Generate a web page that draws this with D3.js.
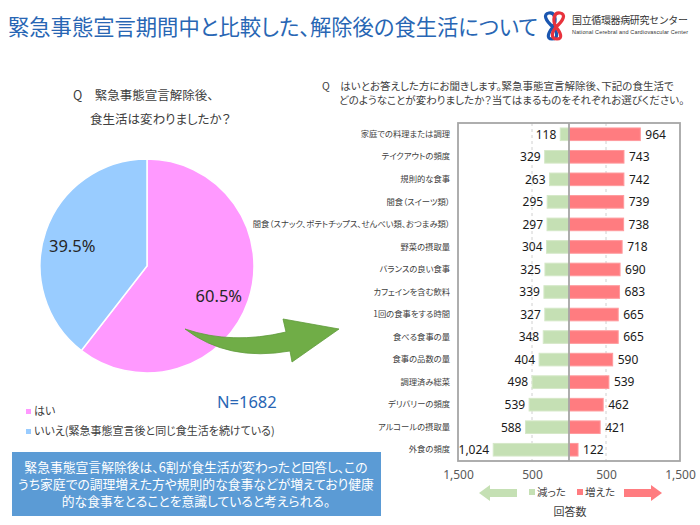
<!DOCTYPE html>
<html><head><meta charset="utf-8">
<script src="https://cdn.jsdelivr.net/npm/d3@7"></script>
<style>
body{margin:0;background:#fff;}
svg{display:block;font-family:"Noto Sans CJK JP","Noto Sans",sans-serif;}
.jp{font-feature-settings:"palt";}
</style></head>
<body><svg id="c" width="700" height="525"></svg>
<script>
const pieLabels = ["はい", "いいえ(緊急事態宣言後と同じ食生活を続けている)"];
const pieValues = [60.5, 39.5];
const pieColors = ["#ff99ff", "#99ccff"];
const categories = ["家庭での料理または調理","テイクアウトの頻度","規則的な食事","間食（スイーツ類）","間食（スナック、ポテトチップス、せんべい類、おつまみ類）","野菜の摂取量","バランスの良い食事","カフェインを含む飲料","1回の食事をする時間","食べる食事の量","食事の品数の量","調理済み総菜","デリバリーの頻度","アルコールの摂取量","外食の頻度"];
const increased = [964,743,742,739,738,718,690,683,665,665,590,539,462,421,122];
const decreased = [118,329,263,295,297,304,325,339,327,348,404,498,539,588,1024];
const axisTicks = [-1500,-500,500,1500];
const gridTicks = [-500,500];

const svg = d3.select("#c");

// Title
svg.append("text").attr("class","jp").attr("x",8).attr("y",35).attr("font-size",21.3)
  .attr("fill","#2866b4").text("緊急事態宣言期間中と比較した、解除後の食生活について");

// Logo
const logo = svg.append("g");
logo.append("path").attr("d","M553,27 C545,20 543,14 549,13 C555,12 557,20 553,27 C548,33 546,39 552,39 C558,39 558,33 553,27")
  .attr("fill","none").attr("stroke","#1a56b0").attr("stroke-width",3.2);
logo.append("path").attr("d","M556,27 C564,20 566,14 560,13 C554,12 552,20 556,27 C561,33 563,39 557,39 C551,39 551,33 556,27")
  .attr("fill","none").attr("stroke","#e8323c").attr("stroke-width",3.2);
logo.append("text").attr("x",572).attr("y",24).attr("font-size",10).attr("fill","#333")
  .attr("textLength",116).text("国立循環器病研究センター");
logo.append("text").attr("x",572).attr("y",34).attr("font-size",5.5).attr("fill","#333")
  .attr("font-family","Liberation Sans").attr("textLength",116).text("National Cerebral and Cardiovascular Center");

// Pie question
svg.append("text").attr("class","jp").attr("x",73).attr("y",100).attr("font-size",12.5).attr("fill","#404040")
  .text("Q　緊急事態宣言解除後、");
svg.append("text").attr("class","jp").attr("x",90).attr("y",124).attr("font-size",12.5).attr("fill","#404040")
  .text("食生活は変わりましたか？");

// Summary box (drawn early so the chart sits above it)
svg.append("rect").attr("x",12).attr("y",452).attr("width",369).attr("height",64).attr("fill","#5b9bd5");
const sum = ["緊急事態宣言解除後は、6割が食生活が変わったと回答し、この","うち家庭での調理増えた方や規則的な食事などが増えており健康","的な食事をとることを意識していると考えられる。"];
sum.forEach((s,i)=>svg.append("text").attr("class","jp").attr("x",196).attr("y",471.5+i*17)
  .attr("text-anchor","middle").attr("font-size",12.8).attr("fill","#fff").text(s));

// Pie
const pcx=147, pcy=266, pr=107;
const pie = d3.pie().sort(null).value(d=>d)(pieValues);
const arc = d3.arc().innerRadius(0).outerRadius(pr);
const pg = svg.append("g").attr("transform",`translate(${pcx},${pcy})`);
pg.selectAll("path").data(pie).join("path").attr("d",arc)
  .attr("fill",(d,i)=>pieColors[i]).attr("stroke","#fff").attr("stroke-width",1.5);
const labelArc = d3.arc().innerRadius(pr*0.66).outerRadius(pr*0.66);
pg.selectAll("text.pl").data(pie).join("text").attr("class","pl")
  .attr("transform",(d,i)=>{const c=labelArc.centroid(d);return `translate(${c[0]+(i==0?5:-8)},${c[1]+(i==0?9:4)})`;})
  .attr("text-anchor","middle").attr("dominant-baseline","middle")
  .attr("font-family","Noto Sans").attr("font-size",16.5).attr("fill","#262626")
  .text(d=>d.data.toFixed(1)+"%");

// Green curved arrow
svg.append("path").attr("d","M185,329 Q232,345 286,332 L283,319 L339,329 L292,362 L290,351 Q228,362 185,329 Z")
  .attr("fill","#70ad47").attr("stroke","#5e9a3a").attr("stroke-width",0.8);

// N
svg.append("text").attr("x",217).attr("y",408).attr("font-family","Noto Sans").attr("font-size",16.5)
  .attr("fill","#2866b4").text("N=1682");

// Pie legend
const lg = svg.append("g");
pieLabels.forEach((l,i)=>{
  lg.append("rect").attr("x",26).attr("y",409+i*20).attr("width",5).attr("height",5).attr("fill",pieColors[i]);
  lg.append("text").attr("class","jp").attr("x",34).attr("y",415+i*20).attr("font-size",11).attr("fill","#404040").text(l);
});

// Right question
svg.append("text").attr("class","jp").attr("x",322).attr("y",90).attr("font-size",10.5).attr("fill","#404040")
  .text("Q　はいとお答えした方にお聞きします。緊急事態宣言解除後、下記の食生活で");
svg.append("text").attr("class","jp").attr("x",339).attr("y",104).attr("font-size",10.5).attr("fill","#404040")
  .text("どのようなことが変わりましたか？当てはまるものをそれぞれお選びください。");

// Bar chart
const x = d3.scaleLinear().domain([-1500,1500]).range([458,680]);
const y = d3.scaleBand().domain(categories).range([123,461]).paddingInner(0.44).paddingOuter(0.22);
const g = svg.append("g");
g.append("rect").attr("x",458).attr("y",123).attr("width",222).attr("height",338).attr("fill","#fff");
g.selectAll("line.grid").data(gridTicks).join("line").attr("class","grid")
  .attr("x1",d=>x(d)).attr("x2",d=>x(d)).attr("y1",123).attr("y2",461)
  .attr("stroke","#d0d0d0").attr("stroke-dasharray","3,3");
g.selectAll("rect.dec").data(decreased).join("rect").attr("class","dec")
  .attr("x",d=>x(-d)).attr("width",d=>x(0)-x(-d)).attr("y",(d,i)=>y(categories[i])).attr("height",y.bandwidth())
  .attr("fill","#c5e0b4").attr("stroke","#d5e8c8").attr("stroke-width",1);
g.selectAll("rect.inc").data(increased).join("rect").attr("class","inc")
  .attr("x",x(0)).attr("width",d=>x(d)-x(0)).attr("y",(d,i)=>y(categories[i])).attr("height",y.bandwidth())
  .attr("fill","#ff7c80").attr("stroke","#ff9a9d").attr("stroke-width",1);
const fmt = d3.format(",");
g.selectAll("text.dv").data(decreased).join("text").attr("class","dv")
  .attr("x",d=>x(-d)-4).attr("y",(d,i)=>y(categories[i])+y.bandwidth()/2).attr("dy","0.36em")
  .attr("text-anchor","end").attr("font-family","Noto Sans").attr("font-size",12).attr("fill","#1a1a1a").text(d=>fmt(d));
g.selectAll("text.iv").data(increased).join("text").attr("class","iv")
  .attr("x",d=>x(d)+5).attr("y",(d,i)=>y(categories[i])+y.bandwidth()/2).attr("dy","0.36em")
  .attr("font-family","Noto Sans").attr("font-size",12).attr("fill","#1a1a1a").text(d=>fmt(d));
g.append("rect").attr("x",458).attr("y",123).attr("width",222).attr("height",338)
  .attr("fill","none").attr("stroke","#a6a6a6").attr("stroke-width",1.8);
g.append("line").attr("x1",x(0)).attr("x2",x(0)).attr("y1",123).attr("y2",461)
  .attr("stroke","#a6a6a6").attr("stroke-width",1.8);

// Category labels (axis)
const yAxis = d3.axisLeft(y).tickSize(0).tickPadding(8);
const ya = svg.append("g").attr("transform","translate(458,0)").call(yAxis);
ya.select(".domain").remove();
ya.selectAll("text").attr("class","jp").attr("font-size",8.3).attr("fill","#404040")
  .attr("font-family","Noto Sans CJK JP");

// X axis
const xAxis = d3.axisBottom(x).tickValues(axisTicks).tickSize(0).tickPadding(9).tickFormat(d=>fmt(Math.abs(d)));
const xa = svg.append("g").attr("transform","translate(0,461)").call(xAxis);
xa.select(".domain").remove();
xa.selectAll("text").attr("font-size",12).attr("fill","#595959").attr("font-family","Noto Sans");

// Legend
const lgb = svg.append("g");
lgb.append("path").attr("d","M479,493 L490,485 L490,489 L517,489 L517,497 L490,497 L490,501 Z").attr("fill","#c5e0b4");
lgb.append("rect").attr("x",529).attr("y",489).attr("width",6).attr("height",6).attr("fill","#c5e0b4");
lgb.append("text").attr("class","jp").attr("x",537).attr("y",496).attr("font-size",10.5).attr("fill","#404040").text("減った");
lgb.append("rect").attr("x",577).attr("y",489).attr("width",6).attr("height",6).attr("fill","#ff7c80");
lgb.append("text").attr("class","jp").attr("x",585).attr("y",496).attr("font-size",10.5).attr("fill","#404040").text("増えた");
lgb.append("path").attr("d","M662,493 L651,485 L651,489 L624,489 L624,497 L651,497 L651,501 Z").attr("fill","#ff7c80");
svg.append("text").attr("class","jp").attr("x",570).attr("y",516).attr("text-anchor","middle")
  .attr("font-size",11).attr("fill","#404040").text("回答数");
</script></body></html>
